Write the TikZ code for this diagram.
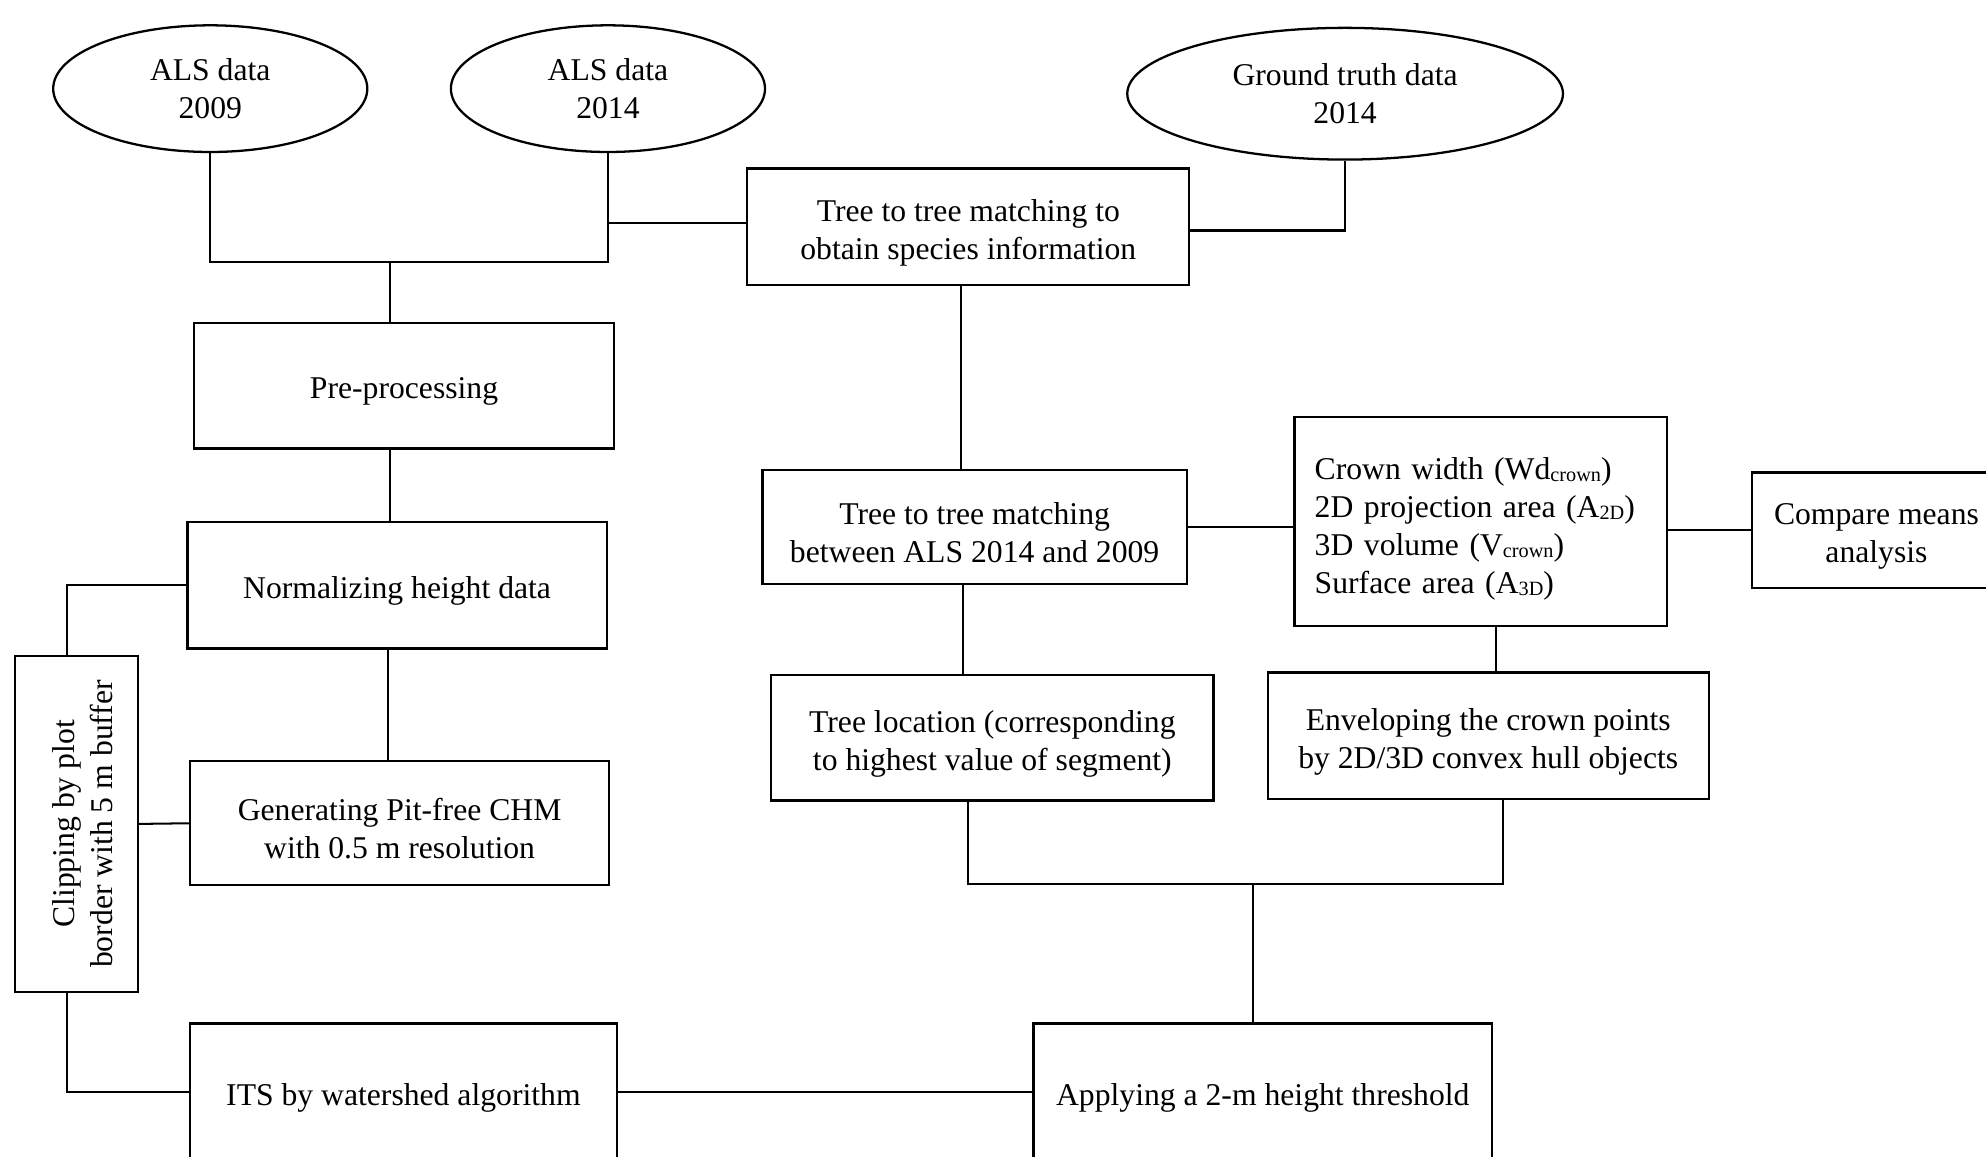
\documentclass[tikz,border=0pt]{standalone}
\usepackage{fontspec}
\setmainfont{Liberation Serif}
\usetikzlibrary{shapes.geometric}
\newcommand{\sbs}[1]{\raisebox{-0.6pt}{\fontsize{8}{8}\selectfont #1}}
\newcommand{\st}{\rule{0pt}{13.2pt}}
\begin{document}
\begin{tikzpicture}[x=0.5pt,y=-0.5pt,
  every node/.style={font=\fontsize{12.5}{15}\selectfont},
  box/.style={draw, line width=0.9pt, align=center, inner sep=0pt},
  oval/.style={draw, line width=0.9pt, ellipse, align=center, inner sep=0pt},
  conn/.style={line width=0.8pt}]
\useasboundingbox (0,0) rectangle (1568,913);
\clip (0,0) rectangle (1568,913);
\fill[white] (0,0) rectangle (1568,913);

% ellipses
\node[oval, minimum width=124pt, minimum height=50pt] (E1) at (166,70) {ALS data\\2009};
\node[oval, minimum width=124pt, minimum height=50pt] (E2) at (480,70) {ALS data\\2014};
\node[oval, minimum width=172pt, minimum height=52pt] (E3) at (1062,74) {Ground truth data\\2014};

% boxes
\node[box, minimum width=174.5pt, minimum height=46pt] (T1) at (764.5,179) {\st Tree to tree matching to\\obtain species information};
\node[box, minimum width=166pt, minimum height=49.5pt] (Pre) at (319,304.5) {\st Pre-processing};
\node[box, minimum width=165.5pt, minimum height=50pt] (Norm) at (313.5,462) {\st Normalizing height data};
\node[box, rotate=90, minimum width=132.5pt, minimum height=48.5pt] (Clip) at (60.5,650.5) {\st Clipping by plot\\border with 5 m buffer};
\node[box, minimum width=165.5pt, minimum height=49pt] (Gen) at (315.5,650) {\st Generating Pit-free CHM\\with 0.5 m resolution};
\node[box, minimum width=168.5pt, minimum height=54pt] (ITS) at (318.5,862) {\st ITS by watershed algorithm};
\node[box, minimum width=181pt, minimum height=54pt] (App) at (997,862) {\st Applying a 2-m height threshold};
\node[box, minimum width=167.5pt, minimum height=45pt] (T2) at (769.5,416) {\st Tree to tree matching\\between ALS 2014 and 2009};
\node[box, align=left, text width=131pt, inner xsep=8pt, minimum height=82.5pt] (Crown) at (1169,411.5)
  {\rule{0pt}{14.8pt}Crown width (Wd\sbs{crown})\\2D projection area (A\sbs{2D})\\3D volume (V\sbs{crown})\\Surface area (A\sbs{3D})};
\node[box, minimum width=98.5pt, minimum height=45.5pt] (Cmp) at (1481.5,418.5) {\st Compare means\\analysis};
\node[box, minimum width=174.5pt, minimum height=49.5pt] (TLoc) at (783.5,582.5) {\st Tree location (corresponding\\to highest value of segment)};
\node[box, minimum width=174pt, minimum height=50pt] (Env) at (1175,581) {\st Enveloping the crown points\\by 2D/3D convex hull objects};

% junction coordinates
\coordinate (j1) at (308,207);
\coordinate (jc) at (53,0);
\coordinate (jt) at (759,0);
\coordinate (jt2) at (760,0);
\coordinate (jcr) at (1181,0);
\coordinate (jb) at (989,698);
\coordinate (jbl) at (764,0);
\coordinate (jbr) at (1187,0);

% connectors
\draw[conn] (E1.south) -- (E1.south |- j1) -- (E2.south |- j1) -- (E2.south);
\draw[conn] (j1) -- (j1 |- Pre.north);
\draw[conn] (E2.south |- 0,176) -- (T1.west |- 0,176);
\draw[conn] (E3.south) |- (T1.east |- 0,182);
\draw[conn] (Pre.south -| j1) -- (Norm.north -| j1);
\draw[conn] (Norm.west) -- (jc |- Norm.west) -- (jc |- Clip.east);
\draw[conn] (Clip.south) -- (Gen.west);
\draw[conn] (Norm.south -| 306,0) -- (Gen.north -| 306,0);
\draw[conn] (jc |- Clip.west) -- (jc |- ITS.west) -- (ITS.west);
\draw[conn] (ITS.east) -- (App.west);
\draw[conn] (jt |- T1.south) -- (jt |- T2.north);
\draw[conn] (T2.east) -- (T2.east -| Crown.west);
\draw[conn] (Cmp.west -| Crown.east) -- (Cmp.west);
\draw[conn] (jt2 |- T2.south) -- (jt2 |- TLoc.north);
\draw[conn] (jcr |- Crown.south) -- (jcr |- Env.north);
\draw[conn] (jbl |- TLoc.south) -- (jbl |- jb) -- (jbr |- jb) -- (jbr |- Env.south);
\draw[conn] (jb) -- (jb |- App.north);
\end{tikzpicture}
\end{document}
